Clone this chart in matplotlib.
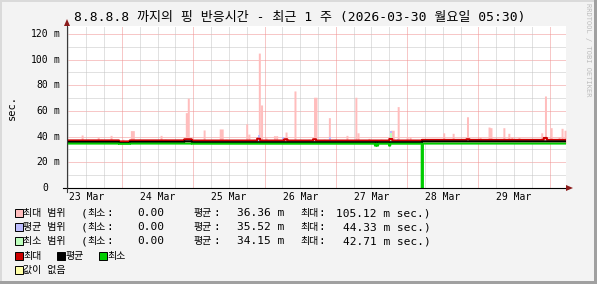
import numpy as np
import pandas as pd
import matplotlib
matplotlib.use("Agg")
import matplotlib.pyplot as plt
import matplotlib.dates as mdates
import matplotlib.transforms as mtransforms
from matplotlib.patches import Rectangle, Polygon
from matplotlib.lines import Line2D

plt.rcParams['font.family'] = ['DejaVu Sans Mono', 'Noto Sans CJK KR']

# ---------------- data ----------------
title = "8.8.8.8 까지의 핑 반응시간 - 최근 1 주 (2026-03-30 월요일 05:30)"
y_label = "sec."
watermark = "RRDTOOL / TOBI OETIKER"
t_start = "2026-03-23 05:30"
t_end = "2026-03-30 05:30"
y_top = 126.2

day_label_times = ["2026-03-23 12:00", "2026-03-24 12:00", "2026-03-25 12:00", "2026-03-26 12:00",
                   "2026-03-27 12:00", "2026-03-28 12:00", "2026-03-29 12:00"]
day_labels = ["23 Mar", "24 Mar", "25 Mar", "26 Mar", "27 Mar", "28 Mar", "29 Mar"]
y_ticks = [0, 20, 40, 60, 80, 100, 120]
y_tick_numbers = ["0", "20", "40", "60", "80", "100", "120"]
y_tick_units = ["", "m", "m", "m", "m", "m", "m"]

# baseline levels of the three lines (piecewise)
seg_starts = ["2026-03-23 05:30", "2026-03-23 23:00", "2026-03-24 02:40",
              "2026-03-24 21:00", "2026-03-24 23:30", "2026-03-28 05:00"]
max_levels = [37.1, 36.3, 37.1, 38.0, 37.0, 37.5]
avg_levels = [35.9, 35.0, 35.9, 36.4, 35.7, 36.3]
min_levels = [34.6, 34.4, 34.6, 34.6, 34.5, 34.6]

# short excursions of the lines
max_bump_times = ["2026-03-25 21:30", "2026-03-26 06:40", "2026-03-26 16:20",
                  "2026-03-27 18:00", "2026-03-28 20:00", "2026-03-29 22:00"]
max_bump_vals = [38.4, 38.0, 38.0, 38.2, 38.0, 39.0]
min_dip_times = ["2026-03-27 13:10", "2026-03-27 13:50", "2026-03-27 17:55", "2026-03-28 04:55"]
min_dip_vals = [33.0, 33.0, 33.0, 0.0]

# max range spikes
spike_times = [
    "2026-03-23 10:12", "2026-03-23 12:12", "2026-03-23 15:36", "2026-03-23 16:36", "2026-03-23 20:00",
    "2026-03-24 00:00", "2026-03-24 02:50", "2026-03-24 03:30", "2026-03-24 05:24", "2026-03-24 12:48",
    "2026-03-24 14:06", "2026-03-24 17:48", "2026-03-24 21:20", "2026-03-24 22:00", "2026-03-25 03:18",
    "2026-03-25 05:18", "2026-03-25 08:45", "2026-03-25 09:25", "2026-03-25 10:42", "2026-03-25 12:42",
    "2026-03-25 17:40", "2026-03-25 18:25", "2026-03-25 20:06", "2026-03-25 21:54", "2026-03-25 22:36",
    "2026-03-26 00:06", "2026-03-26 03:00", "2026-03-26 03:42", "2026-03-26 05:54", "2026-03-26 06:54",
    "2026-03-26 09:54", "2026-03-26 11:36", "2026-03-26 14:36", "2026-03-26 16:30", "2026-03-26 17:00",
    "2026-03-26 19:42", "2026-03-26 21:30", "2026-03-26 23:24", "2026-03-27 03:24", "2026-03-27 06:24",
    "2026-03-27 07:10", "2026-03-27 10:48", "2026-03-27 14:48", "2026-03-27 18:20", "2026-03-27 19:00",
    "2026-03-27 20:36", "2026-03-27 23:36", "2026-03-28 00:36", "2026-03-28 12:00", "2026-03-28 15:06",
    "2026-03-28 17:24", "2026-03-28 20:00", "2026-03-28 21:06", "2026-03-29 00:12", "2026-03-29 03:12",
    "2026-03-29 03:54", "2026-03-29 05:54", "2026-03-29 08:12", "2026-03-29 09:54", "2026-03-29 10:54",
    "2026-03-29 13:18", "2026-03-29 18:00", "2026-03-29 21:00", "2026-03-29 22:12", "2026-03-30 00:06",
    "2026-03-30 02:48", "2026-03-30 03:48", "2026-03-30 04:48"]
spike_max = [
    41.3, 38.0, 39.7, 38.0, 41.0,
    38.0, 44.7, 44.7, 38.0, 41.0,
    38.0, 37.5, 58.7, 70.0, 45.2,
    37.5, 46.0, 46.0, 38.0, 37.5,
    50.0, 42.0, 38.0, 105.1, 64.7,
    39.0, 40.8, 40.8, 38.0, 43.6,
    75.6, 38.0, 38.0, 70.7, 70.7,
    38.0, 54.8, 38.0, 41.0, 70.7,
    43.0, 38.7, 38.0, 45.0, 45.0,
    63.4, 40.0, 40.0, 43.0, 42.6,
    38.0, 55.5, 38.0, 40.0, 47.5,
    47.0, 38.0, 47.0, 42.6, 40.0,
    39.5, 37.5, 43.0, 71.7, 47.0,
    40.0, 46.5, 45.0]

avg_spike_times = ["2026-03-25 21:54", "2026-03-26 05:54", "2026-03-26 21:48", "2026-03-27 18:20", "2026-03-27 20:36"]
avg_spike_vals = [41.0, 39.5, 40.0, 44.3, 38.5]
min_spike_times = ["2026-03-27 18:20"]
min_spike_vals = [42.7]

legend_names = ["최대 범위", "평균 범위", "최소 범위"]
legend_min = [0.00, 0.00, 0.00]
legend_avg = [36.36, 35.52, 34.15]
legend_max = [105.12, 44.33, 42.71]
legend_line_names = ["최대", "평균", "최소"]
nodata_name = "값이 없음"
stat_min_word = "최소"
stat_avg_word = "평균"
stat_max_word = "최대"

# ---------------- styles ----------------
c_pink = "#FFBDBD"
c_blue = "#BDBDFF"
c_lgreen = "#BDFFBD"
c_red = "#CC0000"
c_black = "#000000"
c_green = "#00CC00"
c_yellow = "#FFFFA8"
area_colors = [c_pink, c_blue, c_lgreen]
line_colors = [c_red, c_black, c_green]

W, H = 597, 284
fig = plt.figure(figsize=(W / 100, H / 100), dpi=100)
fig.patch.set_facecolor("#F3F3F3")


def fx(x):
    return x / W


def fy(y):
    return 1 - y / H


# frame
fig.add_artist(Rectangle((0, 0), 1, fy(281), transform=fig.transFigure, color="#A0A0A0", lw=0))
fig.add_artist(Rectangle((fx(594), 0), 1 - fx(594), 1, transform=fig.transFigure, color="#A0A0A0", lw=0))
fig.add_artist(Rectangle((0, fy(2)), fx(594), 1 - fy(2), transform=fig.transFigure, color="#DADADA", lw=0))
fig.add_artist(Rectangle((0, fy(281)), fx(2), fy(2) - fy(281), transform=fig.transFigure, color="#DADADA", lw=0))

PL, PR, PT, PB = 67, 566, 26, 188
ax = fig.add_axes([fx(PL), fy(PB), (PR - PL) / W, (PB - PT) / H])
ax.set_facecolor("white")
for s in ax.spines.values():
    s.set_visible(False)
ax.set_xticks([])
ax.set_yticks([])

x0 = mdates.date2num(pd.Timestamp(t_start))
x1 = mdates.date2num(pd.Timestamp(t_end))
ax.set_xlim(x0, x1)
ax.set_ylim(0, y_top)

# grid
dot = (0, (1, 1))
minor_c = "#C4C4C4"
major_c = "#F09090"
for v in range(10, int(y_top) + 1, 10):
    if v % 20 == 0:
        ax.axhline(v, color=major_c, lw=0.72, ls=dot, zorder=1)
    else:
        ax.axhline(v, color=minor_c, lw=0.72, ls=dot, zorder=1)
for t in pd.date_range("2026-03-23 06:00", t_end, freq="6h"):
    xv = mdates.date2num(t)
    if t.hour == 0:
        ax.axvline(xv, color=major_c, lw=0.72, ls=dot, zorder=1)
    else:
        ax.axvline(xv, color=minor_c, lw=0.72, ls=dot, zorder=1)

# series on fine time grid
grid = pd.date_range(t_start, t_end, freq="5min")
gx = mdates.date2num(grid)


def step_levels(starts, levels):
    s = mdates.date2num(pd.to_datetime(starts))
    idx = np.clip(np.searchsorted(s, gx, side="right") - 1, 0, len(levels) - 1)
    return np.asarray(levels, dtype=float)[idx]


def apply(base, times, vals, minutes, mode):
    out = base.copy()
    for t, v in zip(times, vals):
        t0 = mdates.date2num(pd.Timestamp(t))
        m = (gx >= t0) & (gx < t0 + minutes / 1440.0)
        if mode == "max":
            out[m] = np.maximum(out[m], v)
        else:
            out[m] = v
    return out


max_line = apply(step_levels(seg_starts, max_levels), max_bump_times, max_bump_vals, 60, "set")
avg_line = step_levels(seg_starts, avg_levels)
min_line = apply(step_levels(seg_starts, min_levels), min_dip_times, min_dip_vals, 25, "set")

pink_top = apply(max_line, spike_times, spike_max, 40, "max")
blue_top = apply(avg_line, avg_spike_times, avg_spike_vals, 40, "max")
lgreen_top = apply(min_line, min_spike_times, min_spike_vals, 40, "max")

base = step_levels(seg_starts, min_levels)
ax.fill_between(gx, base, pink_top, step="post", color=c_pink, lw=0, zorder=2)
ax.fill_between(gx, base, blue_top, step="post", where=blue_top > avg_line + 0.1,
                color=c_blue, lw=0, zorder=3)
ax.fill_between(gx, base, lgreen_top, step="post", where=lgreen_top > min_line + 0.1,
                color=c_lgreen, lw=0, zorder=3)

lw2 = 1.44
ax.step(gx, max_line, where="post", color=c_red, lw=lw2, zorder=4)
ax.step(gx, avg_line, where="post", color=c_black, lw=lw2, zorder=5)
ax.step(gx, min_line, where="post", color=c_green, lw=lw2, zorder=6)

# axes lines and arrows
dxp = 1.0 / (PR - PL)
dyp = 1.0 / (PB - PT)
ax.add_line(Line2D([-4 * dxp, 1.0], [0, 0], transform=ax.transAxes, color="black", lw=0.8,
                   clip_on=False, zorder=7))
ax.add_line(Line2D([0, 0], [-4 * dyp, 1.0], transform=ax.transAxes, color="#3A3A3A", lw=0.8,
                   clip_on=False, zorder=7))
ax.add_patch(Polygon([[1.0, 3 * dyp], [1.0, -3 * dyp], [1.0 + 7 * dxp, 0]], closed=True,
                     transform=ax.transAxes, color="#8B1A1A", lw=0, clip_on=False, zorder=8))
ax.add_patch(Polygon([[-3 * dxp, 1.0], [3 * dxp, 1.0], [0, 1.0 + 7 * dyp]], closed=True,
                     transform=ax.transAxes, color="#8B1A1A", lw=0, clip_on=False, zorder=8))

# x labels
tx = mtransforms.blended_transform_factory(ax.transData, ax.transAxes)
for t, lab in zip(day_label_times, day_labels):
    ax.text(mdates.date2num(pd.Timestamp(t)), -9 * dyp, lab, transform=tx, ha="center", va="center",
            fontsize=7, color="black")

# y labels
ty_num = mtransforms.blended_transform_factory(fig.transFigure, ax.transData)
for v, n, u in zip(y_ticks, y_tick_numbers, y_tick_units):
    fig.text(fx(48), v, n, transform=ty_num, ha="right", va="center", fontsize=7)
    if u:
        fig.text(fx(53), v, u, transform=ty_num, ha="left", va="center", fontsize=7)

fig.text(fx(74), fy(18), title, ha="left", va="center", fontsize=9.4, color="black")
fig.text(fx(12), fy(107), y_label, rotation=90, ha="center", va="center", fontsize=7.5)
fig.text(fx(588), fy(50), watermark, rotation=270, ha="center", va="center", fontsize=5,
         color="#BDBDBD")

# legend
rows = [213, 227, 241, 256, 270]
fs = 8
fk = 7.2


def box(x, y, c):
    fig.add_artist(Rectangle((fx(x), fy(y + 4)), 8 / W, 8 / H, transform=fig.transFigure,
                             facecolor=c, edgecolor="black", lw=0.7))


def ltext(x, y, s, ha="left", size=fs):
    fig.text(fx(x), fy(y), s, ha=ha, va="center", fontsize=size)


for i in range(3):
    y = rows[i]
    box(15, y, area_colors[i])
    ltext(23, y, legend_names[i], size=fk)
    ltext(81, y, "(")
    ltext(87, y, stat_min_word, size=fk)
    ltext(106, y, ":")
    ltext(164, y, f"{legend_min[i]:.2f}", ha="right")
    ltext(194, y, stat_avg_word, size=fk)
    ltext(213, y, ":")
    ltext(284, y, f"{legend_avg[i]:.2f} m", ha="right")
    ltext(300, y, stat_max_word, size=fk)
    ltext(318, y, ":")
    ltext(431, y, f"{legend_max[i]:.2f} m sec.)", ha="right")

for xb, xt, name, c in zip([15, 57, 99], [23, 66, 107], legend_line_names, line_colors):
    box(xb, rows[3], c)
    ltext(xt, rows[3], name, size=fk)

box(15, rows[4], c_yellow)
ltext(23, rows[4], nodata_name, size=fk)

fig.savefig("out.png", dpi=100, facecolor=fig.get_facecolor())
